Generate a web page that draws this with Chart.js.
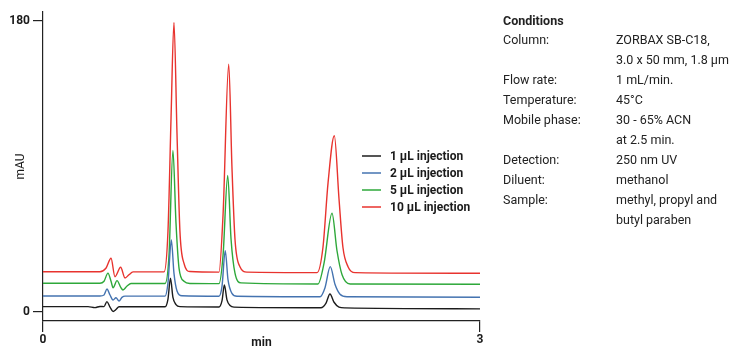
<!DOCTYPE html>
<html>
<head>
<meta charset="utf-8">
<script src="https://cdn.jsdelivr.net/npm/chart.js@4.4.1/dist/chart.umd.min.js"></script>
<style>
  html, body { margin: 0; padding: 0; background: #fff; }
  #wrap { position: relative; width: 729px; height: 350px; }
  #chart { position: absolute; left: 0; top: 0; }
  #conditions {
    position: absolute; left: 503px; top: 12px;
    font-family: Roboto, sans-serif;
    font-size: 12.5px; color: #222; white-space: nowrap;
  }
  #conditions h4 { margin: 0; font-size: 12.5px; line-height: 18px; font-weight: bold; }
  #conditions table { border-collapse: collapse; }
  #conditions td { padding: 0; line-height: 20px; vertical-align: top; }
  #conditions td.lab { width: 113px; }
</style>
</head>
<body>
<div id="wrap">
  <canvas id="chart" width="729" height="350"></canvas>
  <div id="conditions">
    <h4>Conditions</h4>
    <table id="condTable"></table>
  </div>
</div>
<script>
"use strict";

// retention time (min) and absorbance (mAU)
const timesBlack = [0, 0.309, 0.357, 0.391, 0.419, 0.439, 0.460, 0.481, 0.501, 0.522,
  0.838, 0.858, 0.875, 0.892, 0.913, 0.940, 1.208, 1.229, 1.245, 1.263, 1.284, 1.311,
  1.908, 1.943, 1.970, 1.998, 2.032, 2.073, 3.0];
const absBlack = [3.3, 3.3, 2.7, 3.4, 3.3, 6.4, 3.0, 0.3, 1.5, 3.2,
  3.2, 8, 20.8, 9, 4.5, 3.3, 3.1, 7, 16.7, 7.5, 4, 3.0,
  2.6, 5.5, 11.1, 6, 3, 2.5, 1.9];

const timesBlue = [0, 0.391, 0.419, 0.439, 0.460, 0.481, 0.501, 0.522, 0.542, 0.563,
  0.838, 0.858, 0.881, 0.899, 0.920, 0.954, 1.208, 1.229, 1.251, 1.270, 1.297, 1.332,
  1.902, 1.936, 1.972, 2.005, 2.039, 2.087, 3.0];
const absBlue = [9.9, 9.9, 10.5, 14.2, 10.5, 7.4, 8.8, 6.8, 9.0, 9.8,
  9.8, 18, 44.5, 24, 13, 10, 9.7, 16, 37.9, 20, 11.5, 9.7,
  9.4, 15, 28, 17, 11, 9.4, 9.1];

const timesGreen = [0, 0.391, 0.419, 0.446, 0.467, 0.481, 0.508, 0.535, 0.549, 0.577, 0.604,
  0.838, 0.865, 0.892, 0.913, 0.934, 0.968, 1.009, 1.208, 1.236, 1.268, 1.291, 1.318, 1.359,
  1.888, 1.929, 1.984, 2.018, 2.053, 2.108, 3.0];
const absGreen = [17.7, 17.7, 19, 24, 19, 15, 19.4, 15, 13.6, 16, 17.6,
  17.6, 35, 99.8, 55, 27, 19, 17.6, 17.5, 35, 84.4, 45, 24, 18,
  17.3, 30, 61, 38, 23, 17.3, 17.1];

const timesRed = [0, 0.391, 0.432, 0.467, 0.494, 0.533, 0.563, 0.590, 0.618,
  0.831, 0.858, 0.879, 0.899, 0.920, 0.940, 0.968, 1.009,
  1.208, 1.236, 1.275, 1.297, 1.318, 1.352, 1.400,
  1.881, 1.922, 1.957, 2.000, 2.032, 2.059, 2.094, 2.142, 3.0];
const absRed = [24.9, 24.9, 27, 33.2, 21.8, 27.6, 21, 23, 24.8,
  24.8, 50, 120, 179, 110, 50, 30, 25,
  24.6, 60, 153.2, 90, 45, 28, 24.6,
  24.3, 40, 80, 109, 70, 40, 28, 24.3, 23.9];

const seriesLabels = ["1 µL injection", "2 µL injection", "5 µL injection", "10 µL injection"];
const seriesColors = ["#1c1c1c", "#4473b0", "#2ea83a", "#e8332e"];

const xTicks = [0, 3];
const yTicks = [0, 180];

const condLabels = ["Column:", "", "Flow rate:", "Temperature:", "Mobile phase:", "", "Detection:", "Diluent:", "Sample:", ""];
const condValues = ["ZORBAX SB-C18,", "3.0 x 50 mm, 1.8 µm", "1 mL/min.", "45°C", "30 - 65% ACN",
  "at 2.5 min.", "250 nm UV", "methanol", "methyl, propyl and", "butyl paraben"];

const FONT = "Roboto, sans-serif";

(function() {
  window.addEventListener("load", init);

  function init() {
    fillConditions();
    drawChart();
  }

  function fillConditions() {
    let table = id("condTable");
    for (let i = 0; i < condLabels.length; i++) {
      let tr = gen("tr");
      let a = gen("td");
      a.className = "lab";
      a.textContent = condLabels[i];
      let b = gen("td");
      b.textContent = condValues[i];
      tr.appendChild(a);
      tr.appendChild(b);
      table.appendChild(tr);
    }
  }

  function pts(xs, ys) {
    return xs.map((x, i) => ({x: x, y: ys[i]}));
  }

  // legend sits inside the plot, next to the third peak
  const insideLegend = {
    id: "insideLegend",
    afterDatasetsDraw(chart) {
      let ctx = chart.ctx;
      ctx.save();
      ctx.font = "bold 12px " + FONT;
      ctx.textBaseline = "middle";
      chart.data.datasets.forEach(function(ds, i) {
        let y = 156 + i * 17;
        ctx.strokeStyle = ds.borderColor;
        ctx.lineWidth = 1.5;
        ctx.beginPath();
        ctx.moveTo(362, y);
        ctx.lineTo(381, y);
        ctx.stroke();
        ctx.fillStyle = "#1a1a1a";
        ctx.fillText(ds.label, 390, y + 0.5);
      });
      ctx.restore();
    }
  };

  function drawChart() {
    let sets = [
      [timesBlack, absBlack],
      [timesBlue, absBlue],
      [timesGreen, absGreen],
      [timesRed, absRed]
    ];
    let datasets = sets.map(function(s, i) {
      return {
        label: seriesLabels[i],
        data: pts(s[0], s[1]),
        borderColor: seriesColors[i],
        borderWidth: 1.4,
        pointRadius: 0,
        cubicInterpolationMode: "monotone",
        fill: false
      };
    });

    new Chart(id("chart"), {
      type: "line",
      data: { datasets: datasets },
      plugins: [insideLegend],
      options: {
        responsive: false,
        animation: false,
        layout: { padding: { top: 12, right: 249, left: 0, bottom: 0 } },
        plugins: { legend: { display: false }, tooltip: { enabled: false } },
        scales: {
          x: {
            type: "linear",
            min: 0,
            max: 3,
            afterBuildTicks: function(axis) {
              axis.ticks = xTicks.map(v => ({value: v}));
            },
            afterFit: function(axis) { axis.height = 29; },
            grid: { drawOnChartArea: false, tickLength: 11, color: "#222", lineWidth: 1.2 },
            border: { color: "#222", width: 1.2 },
            ticks: { color: "#1a1a1a", padding: 1, maxRotation: 0,
              font: { family: FONT, size: 12, weight: "bold" } },
            title: { display: true, text: "min", color: "#1a1a1a",
              padding: { top: -14, bottom: 0 },
              font: { family: FONT, size: 12, weight: "bold" } }
          },
          y: {
            min: -5.6,
            max: 185.5,
            afterBuildTicks: function(axis) {
              axis.ticks = yTicks.map(v => ({value: v}));
            },
            afterFit: function(axis) { axis.width = 43; },
            grid: { drawOnChartArea: false, tickLength: 10, color: "#222", lineWidth: 1.2 },
            border: { color: "#222", width: 1.2 },
            ticks: { color: "#1a1a1a", padding: 3,
              font: { family: FONT, size: 12, weight: "bold" } },
            title: { display: true, text: "mAU", color: "#1a1a1a",
              padding: { top: 14, bottom: 0 },
              font: { family: FONT, size: 12 } }
          }
        }
      }
    });
  }

  function gen(tagName) {
    return document.createElement(tagName);
  }

  function id(name) {
    return document.getElementById(name);
  }
})();
</script>
</body>
</html>
